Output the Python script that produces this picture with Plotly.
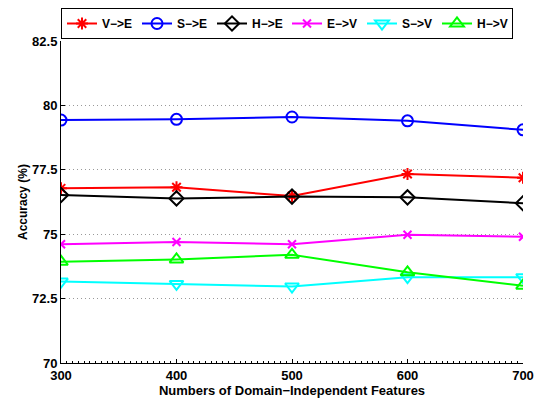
import plotly.graph_objects as go

x_features = [300, 400, 500, 600, 700]
series_names = ["V\u2212>E", "S\u2212>E", "H\u2212>E", "E\u2212>V", "S\u2212>V", "H\u2212>V"]
v_to_e = [76.78, 76.82, 76.48, 77.34, 77.19]
s_to_e = [79.43, 79.46, 79.55, 79.40, 79.05]
h_to_e = [76.52, 76.39, 76.46, 76.43, 76.20]
e_to_v = [74.61, 74.70, 74.61, 74.98, 74.90]
s_to_v = [73.16, 73.07, 72.97, 73.33, 73.33]
h_to_v = [73.93, 74.02, 74.20, 73.52, 73.00]
y_tick_vals = [70, 72.5, 75, 77.5, 80, 82.5]
y_tick_text = ["70", "72.5", "75", "77.5", "80", "82.5"]

series = [v_to_e, s_to_e, h_to_e, e_to_v, s_to_v, h_to_v]
colors = ["#ff0000", "#0000ff", "#000000", "#ff00ff", "#00ffff", "#00ff00"]
symbols = ["asterisk-open", "circle-open", "diamond-open", "x-thin-open", "triangle-down-open", "triangle-up-open"]
sizes = [10, 11, 11, 8, 12, 12]

fig = go.Figure()
for name, ys, c, s, sz in zip(series_names, series, colors, symbols, sizes):
    fig.add_trace(go.Scatter(
        x=x_features, y=ys, name=name, mode="lines+markers",
        line=dict(color=c, width=2),
        marker=dict(symbol=s, size=sz, color=c, line=dict(color=c, width=2)),
    ))

font_family = "Liberation Sans, Arial, sans-serif"
fig.update_layout(
    width=537, height=401,
    margin=dict(l=61, r=14, t=41, b=38, autoexpand=False),
    paper_bgcolor="white", plot_bgcolor="white",
    font=dict(family=font_family, size=12, color="black", weight="bold"),
    showlegend=True,
    legend=dict(
        orientation="h", x=0, y=1.1025, xanchor="left", yanchor="top",
        bordercolor="black", borderwidth=1, bgcolor="white",
        font=dict(size=12, weight="bold"),
        itemwidth=30, entrywidth=30, tracegroupgap=0,
    ),
    xaxis=dict(
        range=[300, 700], tickvals=x_features, ticks="inside", ticklen=4,
        tickcolor="black", showline=True, linecolor="black", linewidth=1,
        showgrid=False, zeroline=False, tickfont=dict(size=13, weight="bold"),
        minor=dict(ticks="inside", ticklen=2, dtick=5, tickcolor="black", showgrid=False),
        title=dict(text="Numbers of Domain\u2212Independent Features", font=dict(size=13, weight="bold"), standoff=0),
    ),
    yaxis=dict(
        range=[70, 82.5], tickvals=y_tick_vals, ticktext=y_tick_text, ticks="inside", ticklen=4,
        tickcolor="black", showline=True, linecolor="black", linewidth=1,
        showgrid=True, gridcolor="#999999", griddash="1px,3px", gridwidth=1,
        zeroline=False, tickfont=dict(size=13, weight="bold"),
        title=dict(text="Accuracy (%)", font=dict(size=12, weight="bold"), standoff=1),
    ),
)
fig.write_html("out.html", config={"displayModeBar": False},
               post_script="document.body.style.margin='0';document.body.style.overflow='hidden';")
